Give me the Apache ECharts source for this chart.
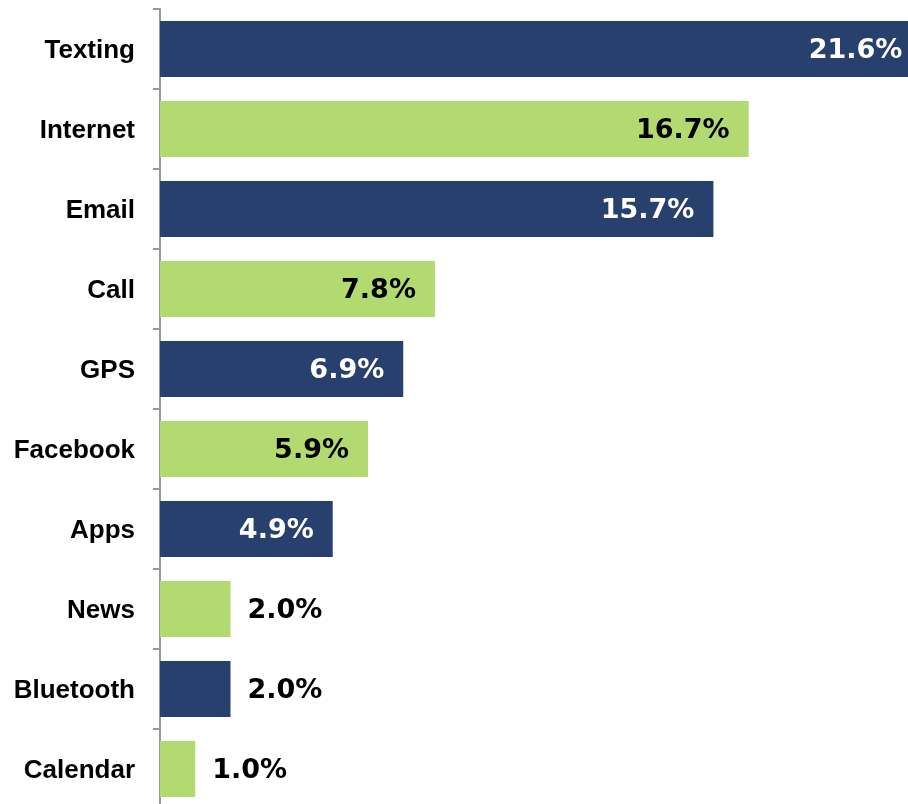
<!DOCTYPE html>
<html>
<head>
<meta charset="utf-8">
<script src="https://cdn.jsdelivr.net/npm/echarts@6/dist/echarts.min.js"></script>
<style>
html,body{margin:0;padding:0;background:#fff;}
#chart{width:908px;height:804px;}
</style>
</head>
<body>
<div id="chart"></div>
<script>
var categories = ['Texting','Internet','Email','Call','GPS','Facebook','Apps','News','Bluetooth','Calendar'];
var values = [21.6, 16.7, 15.7, 7.8, 6.9, 5.9, 4.9, 2.0, 2.0, 1.0];
var insideLabel = [true, true, true, true, true, true, true, false, false, false];
var NAVY = '#27406E', GREEN = '#B3D971';

var data = values.map(function (v, i) {
  var dark = i % 2 === 0;
  var inside = insideLabel[i];
  return {
    value: v,
    itemStyle: { color: dark ? NAVY : GREEN },
    label: {
      position: inside ? 'insideRight' : 'right',
      distance: inside ? 19 : 17,
      color: (inside && dark) ? '#ffffff' : '#000000'
    }
  };
});

var chart = echarts.init(document.getElementById('chart'), null, { renderer: 'canvas' });
chart.setOption({
  animation: false,
  grid: { left: 160, right: 0, top: 9, height: 800, containLabel: false, outerBoundsMode: 'none' },
  xAxis: {
    type: 'value', min: 0, max: 21.22,
    show: false,
    splitLine: { show: false }
  },
  yAxis: {
    type: 'category', data: categories, inverse: true,
    axisLine: { show: true, lineStyle: { color: '#999999', width: 2 } },
    axisTick: { show: true, length: 7, lineStyle: { color: '#999999', width: 2 } },
    axisLabel: {
      margin: 25, color: '#000000',
      fontFamily: 'Liberation Sans, Arial, sans-serif', fontWeight: 'bold', fontSize: 26,
      formatter: function (v) { return '{a|' + v + '}'; },
      rich: {
        a: {
          padding: [4, 0, 0, 0], color: '#000000',
          fontFamily: 'Liberation Sans, Arial, sans-serif', fontWeight: 'bold', fontSize: 26
        }
      }
    }
  },
  series: [{
    type: 'bar',
    clip: false,
    barCategoryGap: '30%',
    data: data,
    label: {
      show: true, offset: [0, 2],
      fontFamily: 'DejaVu Sans, Verdana, sans-serif', fontWeight: 'bold', fontSize: 27,
      formatter: function (p) { return p.value.toFixed(1) + '%'; }
    }
  }]
});
</script>
</body>
</html>
